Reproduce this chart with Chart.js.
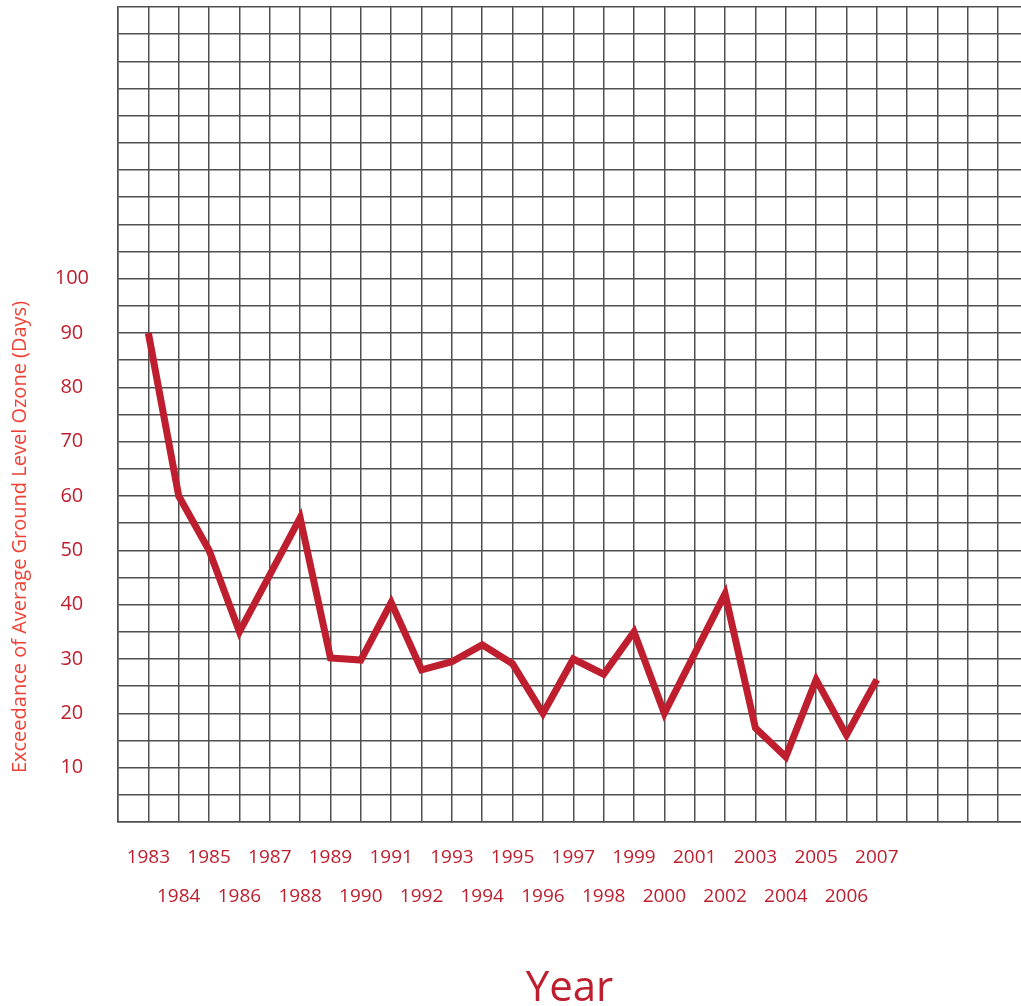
<!doctype html>
<html lang="en">
  <head>
    <meta charset="utf-8">
    <title>Exceedance of Average Ground Level Ozone</title>
    <style>
      * { margin: 0; padding: 0; }
      body { background: #fff; width: 1021px; height: 1006px; overflow: hidden; }
    </style>
  </head>
  <body>
    <canvas id="myChart" width="1021" height="1006"></canvas>
    <script src="https://cdn.jsdelivr.net/npm/chart.js/dist/chart.umd.min.js"></script>
    <script>
// data
const years = [1983, 1984, 1985, 1986, 1987, 1988, 1989, 1990, 1991, 1992, 1993, 1994, 1995,
               1996, 1997, 1998, 1999, 2000, 2001, 2002, 2003, 2004, 2005, 2006, 2007];
const days = [90, 60, 50, 35, 45.5, 56, 30.2, 29.8, 40.4, 28, 29.5, 32.6, 29.1,
              20, 30, 27.2, 35, 20, 31, 42, 17.3, 12, 26.2, 16, 26.2];
const yTickLabels = [10, 20, 30, 40, 50, 60, 70, 80, 90, 100];
const yTitle = 'Exceedance of Average Ground Level Ozone (Days)';
const xTitle = 'Year';

const red = '#BE1E2D';
const gridColor = '#505050';

// y title sits lower than the axis centre, so draw it by hand
const yTitlePlugin = {
  id: 'yTitle',
  afterDraw(chart) {
    const ctx = chart.ctx;
    ctx.save();
    ctx.translate(20, 537);
    ctx.rotate(-Math.PI / 2);
    ctx.font = '20px "Open Sans"';
    ctx.fillStyle = '#EF4136';
    ctx.textAlign = 'center';
    ctx.textBaseline = 'middle';
    ctx.fillText(yTitle, 0, 0);
    ctx.restore();
  }
};

function noPadding(scale) {
  scale.paddingLeft = 0;
  scale.paddingRight = 0;
  scale.paddingTop = 0;
  scale.paddingBottom = 0;
}

const data = {
  datasets: [{
    data: years.map((yr, i) => ({ x: yr, y: days[i] })),
    borderColor: red,
    borderWidth: 7,
    pointRadius: 0,
    tension: 0,
    fill: false
  }]
};

const config = {
  type: 'line',
  data,
  plugins: [yTitlePlugin],
  options: {
    responsive: false,
    animation: false,
    devicePixelRatio: 1,
    layout: { padding: { top: 7, left: 0, right: 0, bottom: 0 } },
    plugins: {
      legend: { display: false },
      tooltip: { enabled: false }
    },
    scales: {
      x: {
        type: 'linear',
        min: 1982,
        max: 2011.75,
        grid: { color: gridColor, lineWidth: 1.5, drawTicks: false },
        border: { color: gridColor, width: 1.5 },
        afterBuildTicks(scale) {
          const t = [];
          for (let v = 1982; v <= 2011; v++) t.push({ value: v });
          scale.ticks = t;
        },
        afterFit(scale) {
          noPadding(scale);
          scale.height = 184;
        },
        ticks: {
          autoSkip: false,
          maxRotation: 0,
          minRotation: 0,
          padding: 16,
          color: red,
          font: { family: 'Open Sans', size: 19, lineHeight: 2.05 },
          callback(v) {
            if (!years.includes(v)) return '';
            return v % 2 === 1 ? String(v) : ['', String(v)];
          }
        },
        title: {
          display: true,
          text: xTitle,
          color: red,
          padding: 0,
          font: { family: 'Open Sans', size: 42, lineHeight: 0.8 }
        }
      },
      y: {
        min: 0,
        max: 150,
        grid: { color: gridColor, lineWidth: 1.5, drawTicks: false },
        border: { color: gridColor, width: 1.5 },
        afterFit(scale) {
          noPadding(scale);
          scale.width = 118;
        },
        ticks: {
          stepSize: 5,
          autoSkip: false,
          crossAlign: 'center',
          padding: 29,
          color: red,
          font: { family: 'Open Sans', size: 20 },
          callback(v) {
            return yTickLabels.includes(v) ? String(v) : '';
          }
        }
      }
    }
  }
};

new Chart(document.getElementById('myChart'), config);
    </script>
  </body>
</html>
